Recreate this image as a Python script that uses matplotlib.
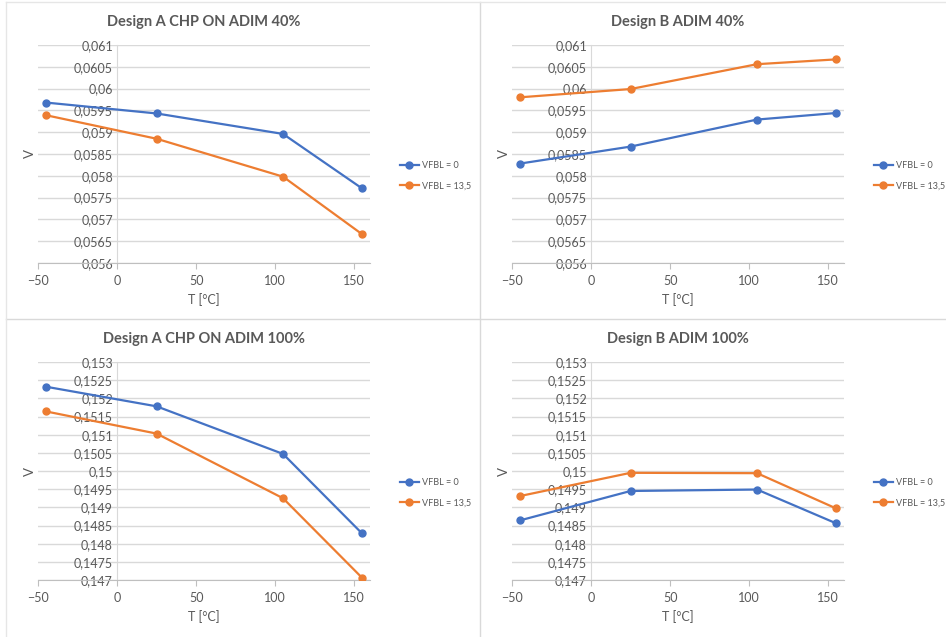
import matplotlib
matplotlib.use("Agg")
import matplotlib.pyplot as plt
from matplotlib.ticker import FuncFormatter, MultipleLocator
from matplotlib.lines import Line2D

plt.rcParams['font.family'] = ['Lato', 'DejaVu Sans']

temps = [-45, 25, 105, 155]

titles = ["Design A CHP ON ADIM 40%", "Design B ADIM 40%",
          "Design A CHP ON ADIM 100%", "Design B ADIM 100%"]

a40_v0 = [0.05968, 0.05943, 0.05896, 0.05771]
a40_v135 = [0.05939, 0.05885, 0.05798, 0.05666]
b40_v0 = [0.05828, 0.05867, 0.05929, 0.05944]
b40_v135 = [0.05980, 0.05999, 0.06056, 0.06067]
a100_v0 = [0.15232, 0.15178, 0.15047, 0.14828]
a100_v135 = [0.15164, 0.15103, 0.14925, 0.14706]
b100_v0 = [0.14864, 0.14945, 0.14949, 0.14856]
b100_v135 = [0.14931, 0.14995, 0.14994, 0.14897]

series = [(a40_v0, a40_v135), (b40_v0, b40_v135),
          (a100_v0, a100_v135), (b100_v0, b100_v135)]
ylims = [(0.056, 0.061), (0.056, 0.061), (0.147, 0.153), (0.147, 0.153)]
labels = ["VFBL = 0", "VFBL = 13,5"]

BLUE = "#4472C4"
ORANGE = "#ED7D31"
TXT = "#595959"
GRID = "#D9D9D9"

W, H = 946, 637
fig = plt.figure(figsize=(W / 100, H / 100), dpi=100)

# panel frames
fig.add_artist(Line2D([480 / W, 480 / W], [0, 1 - 2 / H], color="#D9D9D9", lw=1))
fig.add_artist(Line2D([6 / W, 1], [1 - 319 / H, 1 - 319 / H], color="#D9D9D9", lw=1))
fig.add_artist(Line2D([6 / W, 1], [1 - 2 / H, 1 - 2 / H], color="#E6E6E6", lw=1))
fig.add_artist(Line2D([6 / W, 6 / W], [0, 1 - 2 / H], color="#E6E6E6", lw=1))


def fmt(v, pos):
    s = f"{v:.4f}".rstrip("0").rstrip(".")
    return s.replace(".", ",")


# (left px, top px) of plot area, each plot ~331x218 px
origins = [(38, 45), (512, 45), (38, 362), (512, 362)]
pw, ph = 332, 218

for i, (x0, y0) in enumerate(origins):
    ax = fig.add_axes([x0 / W, 1 - (y0 + ph) / H, pw / W, ph / H])
    s0, s1 = series[i]
    ax.plot(temps, s0, color=BLUE, lw=1.6, marker="o", ms=5, label=labels[0], zorder=3)
    ax.plot(temps, s1, color=ORANGE, lw=1.6, marker="o", ms=5, label=labels[1], zorder=3)
    ax.set_xlim(-50, 160)
    ax.set_ylim(*ylims[i])
    ax.xaxis.set_major_locator(MultipleLocator(50))
    ax.yaxis.set_major_locator(MultipleLocator(0.0005))
    ax.yaxis.set_major_formatter(FuncFormatter(fmt))
    ax.grid(axis="y", color=GRID, lw=1)
    ax.set_axisbelow(True)
    for sp in ["top", "right"]:
        ax.spines[sp].set_visible(False)
    ax.spines["left"].set_position(("data", 0))
    ax.spines["left"].set_color(GRID)
    ax.spines["bottom"].set_color("#BFBFBF")
    ax.tick_params(axis="y", length=0, labelsize=9, labelcolor=TXT, pad=3)
    ax.tick_params(axis="x", length=4, color="#BFBFBF", labelsize=9, labelcolor=TXT, pad=5)
    ax.set_xlabel("T [°C]", fontsize=9, color=TXT, labelpad=4)
    ax.text(-0.025, 0.5, "V", transform=ax.transAxes, rotation=90, fontsize=9.5,
            color=TXT, ha="center", va="center")
    ax.set_title(titles[i], fontsize=10.5, fontweight="bold", color=TXT, pad=14)
    ax.legend(loc="center left", bbox_to_anchor=(1.09, 0.40), frameon=False,
              fontsize=6.5, labelcolor=TXT, handlelength=2.1, handletextpad=0.3,
              labelspacing=1.2, borderaxespad=0, borderpad=0)

fig.savefig("out.png", dpi=100)
